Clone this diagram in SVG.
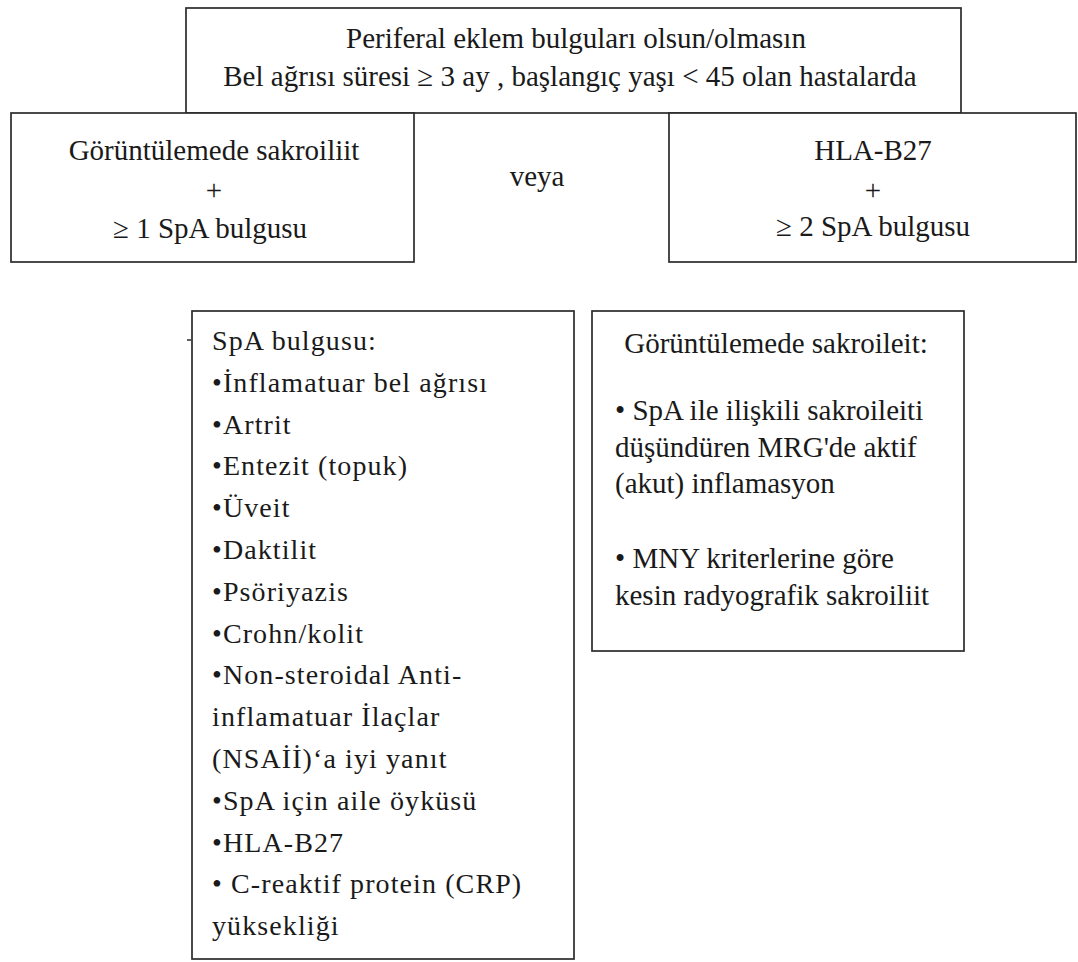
<svg xmlns="http://www.w3.org/2000/svg" width="1078" height="962" viewBox="0 0 1078 962">
<style>
.box{fill:#ffffff;stroke:#2b2b2b;stroke-width:1.7}
.t{font-family:"Liberation Serif","Times New Roman",serif;font-size:29px;fill:#1a1a1a}
.c{text-anchor:middle}
.l{font-family:"Liberation Serif","Times New Roman",serif;font-size:28px;fill:#1a1a1a;letter-spacing:1.1px}
</style>
<rect width="1078" height="962" fill="#ffffff"/>
<g id="top">
<rect class="box" x="186" y="8" width="775" height="105"/>
<text class="t c" x="576" y="48">Periferal eklem bulguları olsun/olmasın</text>
<text class="t c" x="570" y="86">Bel ağrısı süresi ≥ 3 ay , başlangıç yaşı &lt; 45 olan hastalarda</text>
</g>
<g id="left">
<rect class="box" x="11" y="113" width="403" height="149"/>
<text class="t c" x="214" y="160">Görüntülemede sakroiliit</text>
<text class="t c" x="214" y="200">+</text>
<text class="t c" x="210" y="238">≥ 1 SpA bulgusu</text>
</g>
<g id="veya">
<text class="t c" x="537" y="186">veya</text>
</g>
<g id="right">
<rect class="box" x="669" y="113" width="407" height="149"/>
<text class="t c" x="873" y="160">HLA-B27</text>
<text class="t c" x="873" y="200">+</text>
<text class="t c" x="873" y="236">≥ 2 SpA bulgusu</text>
</g>
<g id="spa">
<rect class="box" x="192" y="311" width="382" height="648"/>
<line x1="187" y1="340" x2="191" y2="340" stroke="#2b2b2b" stroke-width="1.5"/>
<text class="l" x="212" y="350">SpA bulgusu:</text>
<text class="l" x="212" y="392">•İnflamatuar bel ağrısı</text>
<text class="l" x="212" y="434">•Artrit</text>
<text class="l" x="212" y="475">•Entezit (topuk)</text>
<text class="l" x="212" y="517">•Üveit</text>
<text class="l" x="212" y="559">•Daktilit</text>
<text class="l" x="212" y="601">•Psöriyazis</text>
<text class="l" x="212" y="643">•Crohn/kolit</text>
<text class="l" x="212" y="684">•Non-steroidal Anti-</text>
<text class="l" x="212" y="726">inflamatuar İlaçlar</text>
<text class="l" x="212" y="768">(NSAİİ)‘a iyi yanıt</text>
<text class="l" x="212" y="810">•SpA için aile öyküsü</text>
<text class="l" x="212" y="852">•HLA-B27</text>
<text class="l" x="212" y="893">• C-reaktif protein  (CRP)</text>
<text class="l" x="212" y="935">yüksekliği</text>
</g>
<g id="imaging">
<rect class="box" x="592" y="311" width="372" height="340"/>
<text class="t c" x="776" y="353">Görüntülemede sakroileit:</text>
<text class="t" x="615" y="420">• SpA ile ilişkili sakroileiti</text>
<text class="t" x="615" y="457">düşündüren MRG'de aktif</text>
<text class="t" x="615" y="493">(akut) inflamasyon</text>
<text class="t" x="615" y="568">• MNY kriterlerine göre</text>
<text class="t" x="615" y="605">kesin radyografik sakroiliit</text>
</g>
<g id="connectors"/>
</svg>
